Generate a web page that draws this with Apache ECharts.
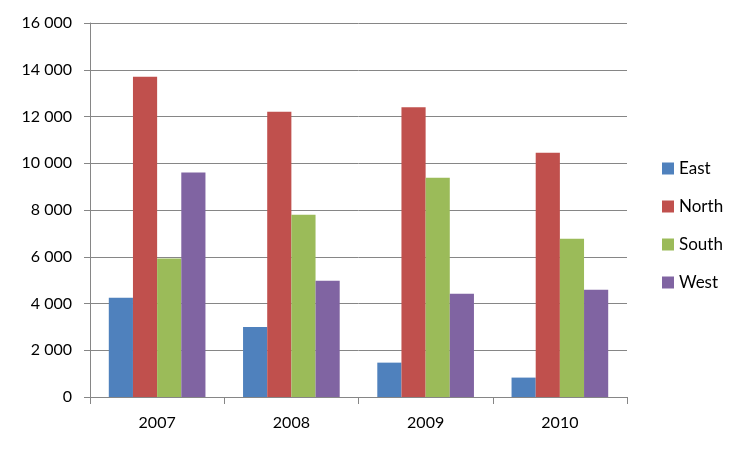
<!DOCTYPE html>
<html><head><meta charset="utf-8">
<script src="https://cdn.jsdelivr.net/npm/echarts@6/dist/echarts.min.js"></script>
<style>html,body{margin:0;padding:0;background:#fff}#c{width:750px;height:450px}</style>
</head><body><div id="c"></div>
<script>
const categories = ['2007', '2008', '2009', '2010'];
const east  = [4250, 3000, 1470, 830];
const north = [13700, 12200, 12400, 10450];
const south = [5920, 7800, 9380, 6770];
const west  = [9600, 4970, 4420, 4590];
const seriesNames = ['East', 'North', 'South', 'West'];
const seriesData = [east, north, south, west];
const colors = ['#4F81BD', '#C0504D', '#9BBB59', '#8064A2'];

const chart = echarts.init(document.getElementById('c'), null, {renderer: 'canvas'});
const font = 'Lato, "Open Sans", sans-serif';
chart.setOption({
  animation: false,
  color: colors,
  grid: {left: 90, right: 123, top: 23, bottom: 53},
  legend: {
    orient: 'vertical', left: 657, top: 155, itemWidth: 12, itemHeight: 12, itemGap: 21,
    icon: 'rect',
    textStyle: {fontFamily: font, fontSize: 17, lineHeight: 16, color: '#000', padding: [0, 0, 0, 0]},
    data: seriesNames
  },
  xAxis: {
    type: 'category', data: categories,
    axisLine: {lineStyle: {color: '#868686', width: 1}},
    axisTick: {show: true, length: 7, lineStyle: {color: '#868686'}},
    axisLabel: {fontFamily: font, fontSize: 16, color: '#000', margin: 18}
  },
  yAxis: {
    type: 'value', min: 0, max: 16000, interval: 2000,
    axisLine: {show: true, lineStyle: {color: '#868686', width: 1}},
    axisTick: {show: true, length: 6, lineStyle: {color: '#868686'}},
    splitLine: {lineStyle: {color: '#868686', width: 1}},
    axisLabel: {fontFamily: font, fontSize: 16, color: '#000', margin: 18,
      formatter: v => String(v).replace(/\B(?=(\d{3})+(?!\d))/g, ' ')}
  },
  series: seriesNames.map((n, i) => ({
    name: n, type: 'bar', data: seriesData[i], barGap: '0%', barCategoryGap: '28%'
  }))
});
</script></body></html>
